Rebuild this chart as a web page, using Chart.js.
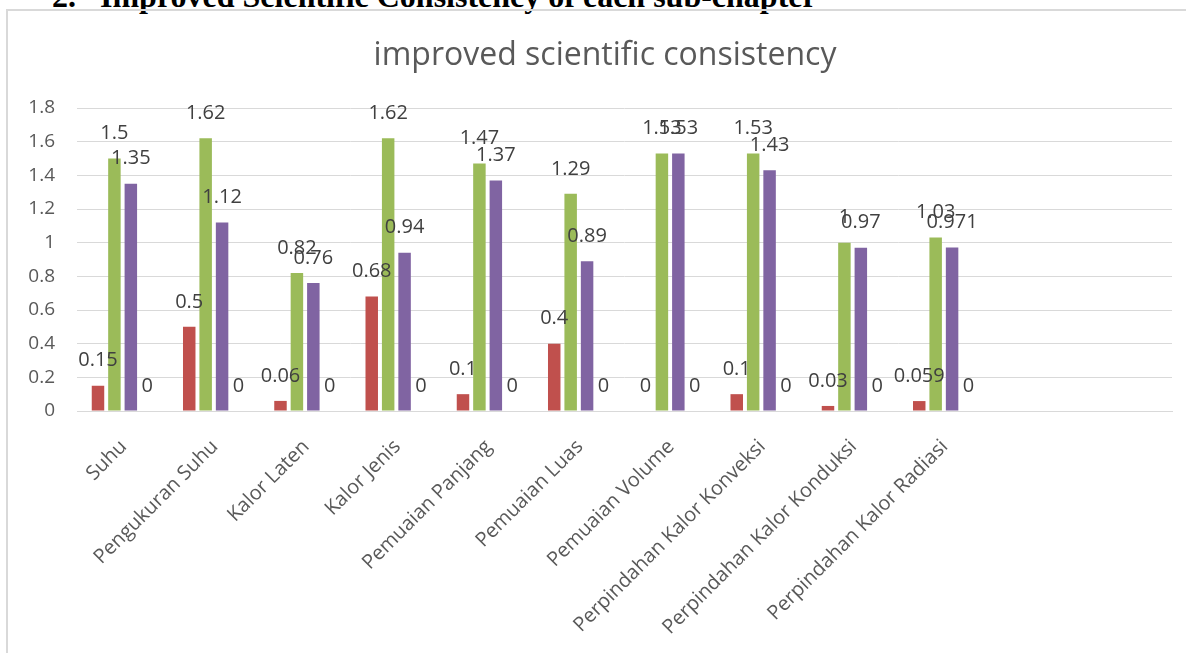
<!DOCTYPE html>
<html>
<head>
<meta charset="utf-8">
<script src="https://cdn.jsdelivr.net/npm/chart.js@4.4.0/dist/chart.umd.min.js"></script>
<style>
    body { margin: 0; background: #fff; width: 1186px; height: 653px; overflow: hidden; position: relative; }
    #head { position: absolute; left: 52px; top: -22px; font: bold 32px "Liberation Serif", serif; white-space: pre; color: #000; }
    #frame { position: absolute; left: 6px; top: 9px; width: 1220px; height: 700px; border: 2px solid #d9d9d9; box-sizing: border-box; }
    #consistencyChart { position: absolute; left: 0; top: 0; }
</style>
</head>
<body>
<div id="head">2.   Improved Scientific Consistency of each sub-chapter</div>
<div id="frame"></div>
<canvas id="consistencyChart" width="1186" height="653"></canvas>
<script>
const chartTitle = 'improved scientific consistency';
const categories = ['Suhu', 'Pengukuran Suhu', 'Kalor Laten', 'Kalor Jenis', 'Pemuaian Panjang',
    'Pemuaian Luas', 'Pemuaian Volume', 'Perpindahan Kalor Konveksi', 'Perpindahan Kalor Konduksi',
    'Perpindahan Kalor Radiasi', '', ''];
const series1 = [0.15, 0.5, 0.06, 0.68, 0.1, 0.4, 0, 0.1, 0.03, 0.059];
const series2 = [1.5, 1.62, 0.82, 1.62, 1.47, 1.29, 1.53, 1.53, 1, 1.03];
const series3 = [1.35, 1.12, 0.76, 0.94, 1.37, 0.89, 1.53, 1.43, 0.97, 0.971];
const series4 = [0, 0, 0, 0, 0, 0, 0, 0, 0, 0];
const yTicks = [0, 0.2, 0.4, 0.6, 0.8, 1, 1.2, 1.4, 1.6, 1.8];

const fontFamily = '"Open Sans", "Noto Sans", sans-serif';

// value labels above each bar, like Excel "outside end"
const barLabels = {
    id: 'barLabels',
    afterDatasetsDraw(chart) {
        const ctx = chart.ctx;
        ctx.save();
        ctx.font = '20px ' + fontFamily;
        ctx.fillStyle = '#404040';
        ctx.textAlign = 'center';
        ctx.textBaseline = 'middle';
        chart.data.datasets.forEach((ds, i) => {
            const meta = chart.getDatasetMeta(i);
            meta.data.forEach((bar, j) => {
                const v = ds.data[j];
                if (v === null || v === undefined) return;
                ctx.fillText(String(v), bar.x, bar.y - 25);
            });
        });
        ctx.restore();
    }
};

// title sits centred on the (wider) chart frame, not on the canvas
const frameTitle = {
    id: 'frameTitle',
    afterDraw(chart) {
        const ctx = chart.ctx;
        ctx.save();
        ctx.font = '32px ' + fontFamily;
        ctx.fillStyle = '#595959';
        ctx.textAlign = 'center';
        ctx.textBaseline = 'alphabetic';
        ctx.fillText(chartTitle, 605, 65);
        ctx.restore();
    }
};

function makeSet(values, color) {
    return {
        data: values,
        backgroundColor: color,
        borderWidth: 0,
        categoryPercentage: 0.72,
        barPercentage: 0.76
    };
}

const config = {
    type: 'bar',
    data: {
        labels: categories,
        datasets: [
            makeSet(series1, '#c0504d'),
            makeSet(series2, '#9bbb59'),
            makeSet(series3, '#8064a2'),
            makeSet(series4, '#4bacc6')
        ]
    },
    options: {
        responsive: false,
        animation: false,
        layout: { padding: { top: 108, right: 14 } },
        plugins: {
            legend: { display: false },
            tooltip: { enabled: false },
            title: { display: false }
        },
        scales: {
            y: {
                min: 0,
                max: 1.8,
                afterFit: function(scale) { scale.width = 77; },
                afterBuildTicks: function(scale) {
                    scale.ticks = yTicks.map(v => ({ value: v }));
                },
                grid: { color: '#d9d9d9', drawTicks: false },
                border: { display: false },
                ticks: {
                    padding: 22,
                    color: '#595959',
                    font: { family: fontFamily, size: 19 },
                    callback: function(value) { return String(+value.toFixed(1)); }
                }
            },
            x: {
                afterFit: function(scale) { scale.height = 242; },
                grid: { display: false },
                border: { color: '#d9d9d9', width: 1 },
                ticks: {
                    autoSkip: false,
                    maxRotation: 45,
                    minRotation: 45,
                    padding: 16,
                    labelOffset: 1,
                    color: '#595959',
                    font: { family: fontFamily, size: 20 }
                }
            }
        }
    },
    plugins: [barLabels, frameTitle]
};

const ctx = document.getElementById('consistencyChart');
if (ctx) {
    new Chart(ctx.getContext('2d'), config);
} else {
    console.error('Cannot find element with id "consistencyChart"');
}
</script>
</body>
</html>
